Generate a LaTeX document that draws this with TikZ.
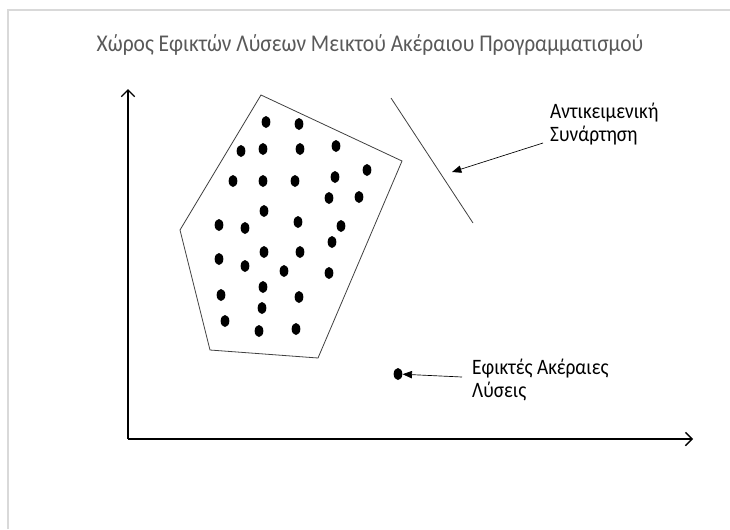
\documentclass[tikz,border=0pt]{standalone}
\usepackage{fontspec}
\setmainfont{Carlito}
\usepackage{xcolor}
\usepackage{tikz}
\usetikzlibrary{arrows.meta, shapes.geometric}

\definecolor{framegray}{HTML}{D9D9D9}
\definecolor{titlegray}{HTML}{595959}

\tikzset{
  dot/.style={ellipse, fill=black, inner sep=0pt, minimum width=6.5pt, minimum height=9pt},
  axis/.style={line width=1pt, -{Straight Barb[length=5pt, width=10pt, line width=1pt]}},
  pointer/.style={line width=0.5pt, -{Triangle[length=7pt, width=5.5pt]}},
  labeltext/.style={anchor=base west, align=left, inner sep=0pt, xscale=0.88, transform shape,
    font=\fontsize{16.5}{17.2}\selectfont},
}

\begin{document}
\begin{tikzpicture}[x=0.75pt, y=-0.75pt]
        \useasboundingbox (0,0) rectangle (730,529);
        \draw[framegray, line width=1.5pt] (8,529) -- (8,10) -- (730,10);

        \node[anchor=base, inner sep=0pt, text=titlegray, xscale=0.895, transform shape,
          font=\fontsize{18}{20}\selectfont] (title) at (370,51) {Χώρος Εφικτών Λύσεων Μεικτού Ακέραιου Προγραμματισμού};

        % axes
        \coordinate (O) at (128,439);
        \coordinate (ytop) at (128,89);
        \coordinate (xend) at (693,439);
        \draw[axis] (O) -- (ytop);
        \draw[axis] (O) -- (xend);

        % feasible region
        \coordinate (p1) at (261,95);
        \coordinate (p2) at (402,161);
        \coordinate (p3) at (318,358);
        \coordinate (p4) at (210,350);
        \coordinate (p5) at (180,230);
        \draw[line width=0.6pt, black!75] (p1) -- (p2) -- (p3) -- (p4) -- (p5) -- cycle;

        % integer points
        \node[dot] (d1) at (266,122) {};
        \node[dot] (d2) at (299,124) {};
        \node[dot] (d3) at (241,151) {};
        \node[dot] (d4) at (263,149) {};
        \node[dot] (d5) at (300,149) {};
        \node[dot] (d6) at (336,146) {};
        \node[dot] (d7) at (367,170) {};
        \node[dot] (d8) at (233,181) {};
        \node[dot] (d9) at (263,181) {};
        \node[dot] (d10) at (295,181) {};
        \node[dot] (d11) at (335,177) {};
        \node[dot] (d12) at (329,198) {};
        \node[dot] (d13) at (359,197) {};
        \node[dot] (d14) at (264,211) {};
        \node[dot] (d15) at (219,225) {};
        \node[dot] (d16) at (245,228) {};
        \node[dot] (d17) at (298,222) {};
        \node[dot] (d18) at (341,226) {};
        \node[dot] (d19) at (332,242) {};
        \node[dot] (d20) at (219,259) {};
        \node[dot] (d21) at (245,266) {};
        \node[dot] (d22) at (264,252) {};
        \node[dot] (d23) at (300,252) {};
        \node[dot] (d24) at (284,271) {};
        \node[dot] (d25) at (329,273) {};
        \node[dot] (d26) at (221,295) {};
        \node[dot] (d27) at (263,287) {};
        \node[dot] (d28) at (299,297) {};
        \node[dot] (d29) at (262,308) {};
        \node[dot] (d30) at (225,321) {};
        \node[dot] (d31) at (259,331) {};
        \node[dot] (d32) at (296,329) {};

        % objective function
        \coordinate (o1) at (391,98);
        \coordinate (o2) at (473,223);
        \draw[line width=0.6pt, black!75] (o1) -- (o2);

        \node[labeltext] (obj) at (550,141) {Αντικειμενική\\Συνάρτηση};
        \coordinate (objtail) at (543,143);
        \coordinate (objhead) at (452,172);
        \draw[pointer] (objtail) -- (objhead);

        % feasible integer solutions
        \node[dot] (sol) at (398,374) {};
        \node[labeltext] (soltext) at (472,397) {Εφικτές Ακέραιες\\Λύσεις};
        \coordinate (soltail) at (462,377);
        \draw[pointer] (soltail) -- (sol);

\end{tikzpicture}
\end{document}
